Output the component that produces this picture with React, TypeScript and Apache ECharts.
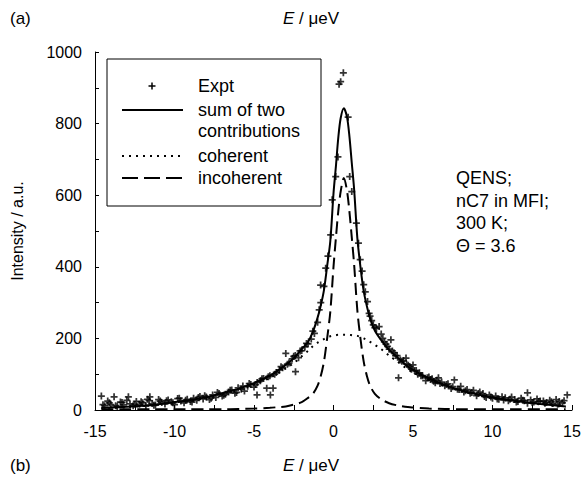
import React, { useEffect, useRef } from "react";
import * as echarts from "echarts";

const FONT = "Liberation Sans, Arial, Helvetica, sans-serif";

// Energy grid for the fitted curves (µeV)
const curveE = [-14.6, -13, -11.5, -10, -9, -8, -7, -6, -5, -4, -3.5, -3, -2.5, -2, -1.6, -1.3, -1.0, -0.8, -0.6, -0.4, -0.2, 0, 0.15, 0.3, 0.45, 0.65, 0.85, 1.0, 1.15, 1.3, 1.5, 1.7, 1.9, 2.1, 2.3, 2.6, 3.0, 3.5, 4, 4.5, 5, 6, 7, 8, 9, 10, 11.5, 13, 14.6];
// sum of two contributions
const sumI = [6, 9, 14, 22, 28, 36, 47, 59, 75, 96, 110, 126, 145, 170, 190, 218, 258, 292, 335, 402, 472, 605, 680, 760, 815, 843, 818, 765, 690, 615, 480, 398, 332, 290, 256, 222, 195, 168, 148, 128, 112, 88, 70, 55, 44, 35, 25, 17, 10];
// coherent contribution
const cohI = [5, 8, 13, 21, 27, 34, 45, 56, 71, 90, 102, 116, 131, 150, 165, 178, 188, 193, 198, 203, 206, 208, 209, 210, 210, 210, 210, 210, 209, 208, 207, 204, 200, 195, 190, 182, 170, 152, 136, 119, 105, 84, 67, 53, 42, 34, 24, 16, 9];
// incoherent contribution
const incI = [2, 2, 2, 2, 2, 2, 2, 3, 4, 6, 8, 10, 15, 22, 34, 45, 68, 95, 135, 200, 275, 400, 480, 555, 610, 648, 612, 555, 482, 405, 278, 198, 135, 95, 68, 45, 30, 19, 13, 9, 7, 4, 3, 2, 2, 2, 2, 2, 2];

// Experimental points [E, intensity]
const exptLeftTail: [number, number][] = [
  [-14.6, 39], [-14.5, 15], [-14.4, 12], [-14.2, 25], [-14.1, 20], [-14.0, 15], [-13.8, 37], [-13.7, 12], [-13.6, 10], [-13.4, 22],
  [-13.3, 21], [-13.2, 14], [-13.0, 27], [-12.9, 37], [-12.8, 17], [-12.6, 12], [-12.5, 16], [-12.4, 24], [-12.2, 16], [-12.1, 23],
  [-12.0, 20], [-11.8, 11], [-11.7, 30], [-11.6, 26], [-11.55, 37], [-11.4, 18], [-11.3, 13], [-11.2, 14], [-11.0, 29], [-10.9, 25],
  [-10.8, 21], [-10.6, 17], [-10.5, 26], [-10.4, 28], [-10.2, 23], [-10.1, 20], [-10.0, 15], [-9.8, 32], [-9.7, 33], [-9.6, 25],
  [-9.4, 20], [-9.3, 27], [-9.2, 30], [-9.0, 24], [-8.9, 22], [-8.8, 33], [-8.6, 27], [-8.5, 35], [-8.4, 38], [-8.2, 31],
  [-8.1, 40], [-8.0, 36], [-7.8, 29], [-7.7, 33], [-7.6, 42], [-7.4, 35], [-7.3, 49], [-7.2, 46], [-7.0, 39], [-6.9, 41],
];
const exptLeftWing: [number, number][] = [
  [-6.8, 44], [-6.6, 50], [-6.5, 55], [-6.4, 56], [-6.2, 47], [-6.1, 49], [-6.0, 62], [-5.8, 58], [-5.7, 67], [-5.6, 53],
  [-5.4, 66], [-5.3, 74], [-5.2, 71], [-5.0, 64], [-4.9, 71], [-4.81, 42], [-4.8, 77], [-4.6, 82], [-4.5, 87], [-4.4, 88],
  [-4.2, 61], [-4.1, 93], [-4.0, 96], [-3.97, 42], [-3.8, 61], [-3.7, 100], [-3.6, 105], [-3.4, 112], [-3.3, 121], [-3.2, 118],
  [-3.0, 158], [-2.9, 128], [-2.8, 131], [-2.6, 143], [-2.5, 150], [-2.4, 152], [-2.39, 107], [-2.2, 146], [-2.1, 165], [-2.0, 166],
  [-1.8, 176], [-1.7, 186], [-1.6, 185], [-1.4, 198], [-1.3, 220], [-1.2, 214], [-1.0, 245], [-0.9, 280], [-0.81, 349], [-0.8, 300],
];
const exptPeak: [number, number][] = [
  [-0.6, 345], [-0.49, 396], [-0.35, 430], [-0.18, 489], [-0.08, 587], [0.14, 652], [0.28, 707], [0.35, 910], [0.45, 917], [0.62, 942],
  [0.92, 818], [1.02, 652], [1.15, 610], [1.44, 522], [1.57, 466], [1.68, 420],
];
const exptRightWing: [number, number][] = [
  [1.8, 388], [1.9, 350], [2.0, 330], [2.14, 303], [2.24, 270], [2.3, 262], [2.4, 250], [2.5, 238], [2.6, 230], [2.7, 228],
  [2.87, 233], [3.0, 212], [3.1, 200], [3.2, 190], [3.3, 184], [3.4, 178], [3.5, 170], [3.61, 196], [3.7, 165], [3.8, 160],
  [3.9, 152], [4.0, 152], [4.09, 90], [4.2, 140], [4.3, 136], [4.4, 138], [4.56, 145], [4.6, 128], [4.7, 125], [4.8, 121],
  [4.9, 114], [5.0, 126], [5.1, 110], [5.2, 110], [5.3, 100], [5.4, 104], [5.5, 96], [5.6, 96], [5.8, 82], [5.9, 90],
  [6.0, 92], [6.1, 85], [6.2, 87], [6.3, 80], [6.4, 76], [6.5, 83], [6.6, 90], [6.7, 74], [6.8, 78], [7.0, 68],
];
const exptRightTail: [number, number][] = [
  [7.1, 71], [7.2, 73], [7.4, 60], [7.5, 65], [7.6, 84], [7.8, 58], [7.9, 57], [8.0, 66], [8.2, 50], [8.3, 54],
  [8.4, 57], [8.6, 47], [8.7, 49], [8.8, 55], [9.0, 40], [9.1, 46], [9.2, 50], [9.4, 46], [9.5, 38], [9.6, 35],
  [9.8, 42], [9.9, 36], [10.0, 33], [10.2, 39], [10.3, 31], [10.4, 30], [10.6, 37], [10.7, 28], [10.8, 34], [11.0, 26],
  [11.1, 30], [11.2, 36], [11.4, 29], [11.5, 22], [11.6, 24], [11.8, 33], [11.9, 27], [12.0, 26], [12.2, 19], [12.2, 48],
  [12.4, 28], [12.5, 21], [12.6, 22], [12.8, 31], [12.9, 24], [13.0, 25], [13.2, 25], [13.3, 19], [13.4, 21], [13.6, 27],
  [13.7, 23], [13.8, 18], [14.0, 29], [14.1, 16], [14.2, 24], [14.4, 20], [14.5, 26], [14.7, 42],
];

const xTicks = [-15, -10, -5, 0, 5, 10, 15];
const yTicks = [0, 200, 400, 600, 800, 1000];
const legendLabels = ["Expt", "sum of two", "contributions", "coherent", "incoherent"];
const noteLines = ["QENS;", "nC7 in MFI;", "300 K;", "\u0398 = 3.6"];

const PLUS = "path://M-1,-4H1V-1H4V1H1V4H-1V1H-4V-1H-1Z";

export default function App() {
  const ref = useRef<HTMLDivElement>(null);
  useEffect(() => {
    if (!ref.current) return;
    const chart = echarts.init(ref.current, null, { renderer: "svg" });
    const zip = (ys: number[]) => curveE.map((e, i) => [e, ys[i]]);
    const expt = [...exptLeftTail, ...exptLeftWing, ...exptPeak, ...exptRightWing, ...exptRightTail];
    const txt = (x: number, y: number, text: string, size: number, extra: any = {}) => ({
      type: "text", x, y, z: 100,
      style: { text, fontFamily: FONT, fontSize: size, fill: "#000", verticalAlign: "middle", ...extra },
    });
    const eLabel = (y: number) => ({
      type: "text", x: 283, y, z: 100,
      style: {
        text: "{i|E} / \u03bceV", fontFamily: FONT, fontSize: 17, fill: "#000", verticalAlign: "middle",
        rich: { i: { fontStyle: "italic", fontFamily: FONT, fontSize: 17 } },
      },
    });
    const legY = [86, 110, 131, 156, 178];
    chart.setOption({
      animation: false,
      backgroundColor: "#fff",
      grid: { left: 95, right: 14, top: 52, bottom: 72, containLabel: false, outerBoundsMode: "none" },
      xAxis: {
        type: "value", min: -15, max: 15, interval: 2.5,
        splitLine: { show: false },
        axisLine: { show: true, onZero: false, lineStyle: { color: "#000", width: 1 } },
        axisTick: { show: true, inside: true, length: 5, lineStyle: { color: "#000" } },
        axisLabel: {
          color: "#000", fontSize: 16, fontFamily: FONT, margin: 13,
          formatter: (v: number) => (xTicks.includes(v) ? String(v) : ""),
        },
      },
      yAxis: {
        type: "value", min: 0, max: 1000, interval: 100,
        name: "Intensity / a.u.", nameLocation: "middle", nameGap: 70, nameRotate: 90,
        nameTextStyle: { color: "#000", fontSize: 16, fontFamily: FONT },
        splitLine: { show: false },
        axisLine: { show: true, onZero: false, lineStyle: { color: "#000", width: 1 } },
        axisTick: { show: true, inside: true, length: 4, lineStyle: { color: "#000" } },
        axisLabel: {
          color: "#000", fontSize: 16, fontFamily: FONT, margin: 13,
          formatter: (v: number) => (yTicks.includes(v) ? String(v) : ""),
        },
      },
      series: [
        {
          name: "Expt", type: "scatter", data: expt, symbol: PLUS, symbolSize: 7,
          itemStyle: { color: "#000" }, z: 3,
        },
        {
          name: "sum", type: "line", data: zip(sumI), showSymbol: false, smooth: 0.3,
          lineStyle: { color: "#000", width: 2 }, z: 4,
        },
        {
          name: "coherent", type: "line", data: zip(cohI), showSymbol: false, smooth: 0.3,
          lineStyle: { color: "#000", width: 2, type: [2, 5] }, z: 4,
        },
        {
          name: "incoherent", type: "line", data: zip(incI), showSymbol: false, smooth: 0.3,
          lineStyle: { color: "#000", width: 2, type: [12, 6] }, z: 4,
        },
      ],
      graphic: [
        txt(10, 18, "(a)", 17),
        eLabel(18),
        txt(10, 465, "(b)", 17),
        eLabel(465),
        ...noteLines.map((t, i) => txt(456, 178 + i * 22.5, t, 18)),
        {
          type: "rect", z: 90, shape: { x: 107, y: 59, width: 214, height: 147 },
          style: { fill: "#fff", stroke: "#000", lineWidth: 1 },
        },
        { type: "line", z: 100, shape: { x1: 148.5, y1: legY[0], x2: 155.5, y2: legY[0] }, style: { stroke: "#000", lineWidth: 1.5 } },
        { type: "line", z: 100, shape: { x1: 152, y1: legY[0] - 3.5, x2: 152, y2: legY[0] + 3.5 }, style: { stroke: "#000", lineWidth: 1.5 } },
        { type: "line", z: 100, shape: { x1: 122, y1: legY[1], x2: 183, y2: legY[1] }, style: { stroke: "#000", lineWidth: 2 } },
        { type: "line", z: 100, shape: { x1: 122, y1: legY[3], x2: 183, y2: legY[3] }, style: { stroke: "#000", lineWidth: 2, lineDash: [2, 5] } },
        { type: "line", z: 100, shape: { x1: 122, y1: legY[4], x2: 183, y2: legY[4] }, style: { stroke: "#000", lineWidth: 2, lineDash: [16, 6] } },
        ...legendLabels.map((t, i) => txt(198, legY[i], t, 18)),
      ],
    });
    return () => chart.dispose();
  }, []);
  return <div ref={ref} style={{ position: "fixed", left: 0, top: 0, width: 586, height: 482 }} />;
}
